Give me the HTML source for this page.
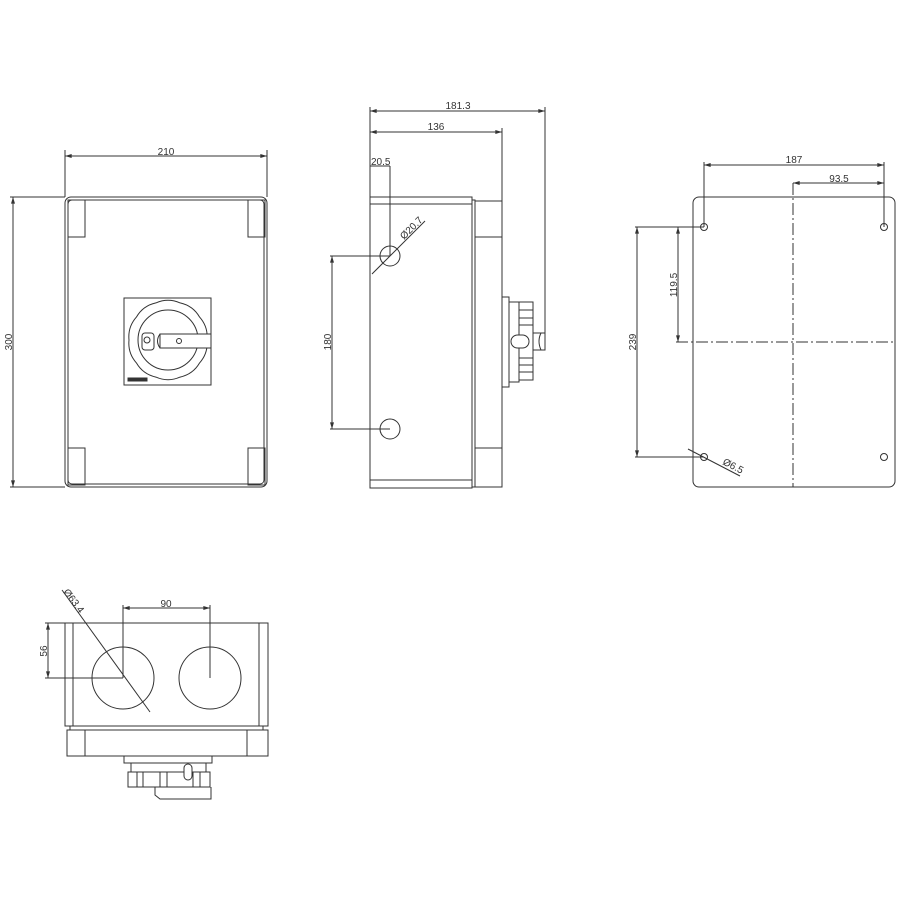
<!DOCTYPE html>
<html><head><meta charset="utf-8"><style>html,body{margin:0;padding:0;background:#fff}svg{display:block}</style></head>
<body>
<svg width="900" height="900" viewBox="0 0 900 900" xmlns="http://www.w3.org/2000/svg" font-family="Liberation Sans, sans-serif" font-size="10" fill="none" stroke="#333" stroke-width="1">
<defs>
<marker id="a" viewBox="0 0 10 6" refX="10" refY="3" markerWidth="8" markerHeight="4" orient="auto-start-reverse"><path d="M0,0L10,3L0,6z" fill="#333" stroke="none"/></marker>
</defs>
<g fill="#333" stroke="none">
<text x="166" y="155" text-anchor="middle">210</text>
<text transform="translate(12,342) rotate(-90)" text-anchor="middle">300</text>
<text x="458" y="109" text-anchor="middle">181.3</text>
<text x="436" y="130" text-anchor="middle">136</text>
<text x="371" y="165">20.5</text>
<text transform="translate(404,240) rotate(-45)">Ø20.7</text>
<text transform="translate(331,342) rotate(-90)" text-anchor="middle">180</text>
<text x="794" y="163" text-anchor="middle">187</text>
<text x="839" y="182" text-anchor="middle">93.5</text>
<text transform="translate(677,285) rotate(-90)" text-anchor="middle">119.5</text>
<text transform="translate(636,342) rotate(-90)" text-anchor="middle">239</text>
<text transform="translate(722,464) rotate(27)">Ø6.5</text>
<text x="166" y="607" text-anchor="middle">90</text>
<text transform="translate(63,592) rotate(53)">Ø63.4</text>
<text transform="translate(47,651) rotate(-90)" text-anchor="middle">56</text>
</g>
<!-- FRONT -->
<rect x="65" y="197" width="202" height="290" rx="6"/>
<rect x="68" y="200" width="196" height="284" rx="4"/>
<rect x="68" y="200" width="17" height="37"/><rect x="248" y="200" width="17" height="37"/>
<rect x="68" y="448" width="17" height="37"/><rect x="248" y="448" width="17" height="37"/>
<line x1="65" y1="156" x2="267" y2="156" marker-start="url(#a)" marker-end="url(#a)"/>
<line x1="65" y1="150" x2="65" y2="197"/><line x1="267" y1="150" x2="267" y2="197"/>
<line x1="13" y1="197" x2="13" y2="487" marker-start="url(#a)" marker-end="url(#a)"/>
<line x1="10" y1="197" x2="65" y2="197"/><line x1="10" y1="487" x2="65" y2="487"/>
<rect x="124" y="298" width="87" height="87"/>
<path d="M207,340 A30,30 0 0 1 199.6,362.9 A30,30 0 0 1 180.1,377.1 A30,30 0 0 1 155.9,377.1 A30,30 0 0 1 136.4,362.9 A30,30 0 0 1 129,340 A30,30 0 0 1 136.4,317.1 A30,30 0 0 1 155.9,302.9 A30,30 0 0 1 180.1,302.9 A30,30 0 0 1 199.6,317.1 A30,30 0 0 1 207,340Z"/>
<circle cx="168" cy="340" r="30"/>
<rect x="160" y="334" width="51" height="14" fill="#fff"/>
<path d="M160,334 Q155,341 160,348"/>
<rect x="142" y="333" width="12" height="17" rx="3" fill="#fff"/>
<circle cx="147" cy="340" r="3"/>
<circle cx="179" cy="341" r="2.5"/>
<rect x="128" y="378" width="19" height="3" fill="#333"/>
<!-- SIDE -->
<rect x="370" y="197" width="102" height="291"/>
<line x1="370" y1="204" x2="472" y2="204"/><line x1="370" y1="480" x2="472" y2="480"/>
<rect x="472" y="200" width="3" height="287"/>
<rect x="475" y="201" width="27" height="36"/><rect x="475" y="448" width="27" height="39"/>
<line x1="502" y1="128" x2="502" y2="487"/>
<rect x="502" y="297" width="7" height="90"/>
<rect x="509" y="302" width="10" height="80"/>
<rect x="519" y="302" width="14" height="78"/>
<path d="M519,310H533M519,318H533M519,325H533M519,358H533M519,365H533M519,372H533"/>
<path d="M533,333H545V350H533 M541,333Q537,341 541,350"/>
<rect x="511" y="335" width="18" height="13" rx="6.5" fill="#fff"/>
<line x1="370" y1="111" x2="545" y2="111" marker-start="url(#a)" marker-end="url(#a)"/>
<line x1="370" y1="107" x2="370" y2="197"/><line x1="545" y1="107" x2="545" y2="348"/>
<line x1="370" y1="132" x2="502" y2="132" marker-start="url(#a)" marker-end="url(#a)"/>
<line x1="370" y1="166" x2="390" y2="166"/><line x1="390" y1="166" x2="390" y2="256"/>
<circle cx="390" cy="256" r="10"/><circle cx="390" cy="429" r="10"/>
<line x1="372" y1="274" x2="425" y2="221"/>
<line x1="332" y1="256" x2="332" y2="429" marker-start="url(#a)" marker-end="url(#a)"/>
<line x1="330" y1="256" x2="390" y2="256"/><line x1="330" y1="429" x2="390" y2="429"/>
<!-- BACK -->
<rect x="693" y="197" width="202" height="290" rx="6"/>
<circle cx="704" cy="227" r="3.5"/><circle cx="884" cy="227" r="3.5"/>
<circle cx="704" cy="457" r="3.5"/><circle cx="884" cy="457" r="3.5"/>
<line x1="793" y1="183" x2="793" y2="487" stroke-dasharray="12 3 2 3"/>
<line x1="676" y1="342" x2="893" y2="342" stroke-dasharray="12 3 2 3"/>
<line x1="704" y1="165" x2="884" y2="165" marker-start="url(#a)" marker-end="url(#a)"/>
<line x1="704" y1="162" x2="704" y2="227"/><line x1="884" y1="162" x2="884" y2="227"/>
<line x1="793" y1="183" x2="884" y2="183" marker-start="url(#a)" marker-end="url(#a)"/>
<line x1="678" y1="227" x2="678" y2="342" marker-start="url(#a)" marker-end="url(#a)"/>
<line x1="637" y1="227" x2="637" y2="457" marker-start="url(#a)" marker-end="url(#a)"/>
<line x1="635" y1="227" x2="704" y2="227"/><line x1="635" y1="457" x2="704" y2="457"/>
<line x1="688" y1="449" x2="740" y2="476"/>
<!-- BOTTOM -->
<rect x="65" y="623" width="203" height="103"/>
<line x1="73" y1="623" x2="73" y2="726"/><line x1="259" y1="623" x2="259" y2="726"/>
<path d="M70,726V730H263V726"/>
<rect x="67" y="730" width="201" height="26"/>
<line x1="85" y1="730" x2="85" y2="756"/><line x1="247" y1="730" x2="247" y2="756"/>
<rect x="124" y="756" width="88" height="7"/>
<path d="M131,763V772M206,763V772"/>
<rect x="128" y="772" width="82" height="15"/>
<path d="M137,772V787M143,772V787M160,772V787M167,772V787M193,772V787M200,772V787"/>
<path d="M155,787V795L160,799H211V787"/>
<rect x="184" y="764" width="8" height="16" rx="4" fill="#fff"/>
<circle cx="123" cy="678" r="31"/><circle cx="210" cy="678" r="31"/>
<line x1="123" y1="608" x2="210" y2="608" marker-start="url(#a)" marker-end="url(#a)"/>
<line x1="123" y1="605" x2="123" y2="678"/><line x1="210" y1="605" x2="210" y2="678"/>
<line x1="48" y1="623" x2="48" y2="678" marker-start="url(#a)" marker-end="url(#a)"/>
<line x1="45" y1="623" x2="65" y2="623"/><line x1="45" y1="678" x2="123" y2="678"/>
<line x1="62" y1="590" x2="150" y2="712"/>
</svg>
</body></html>
